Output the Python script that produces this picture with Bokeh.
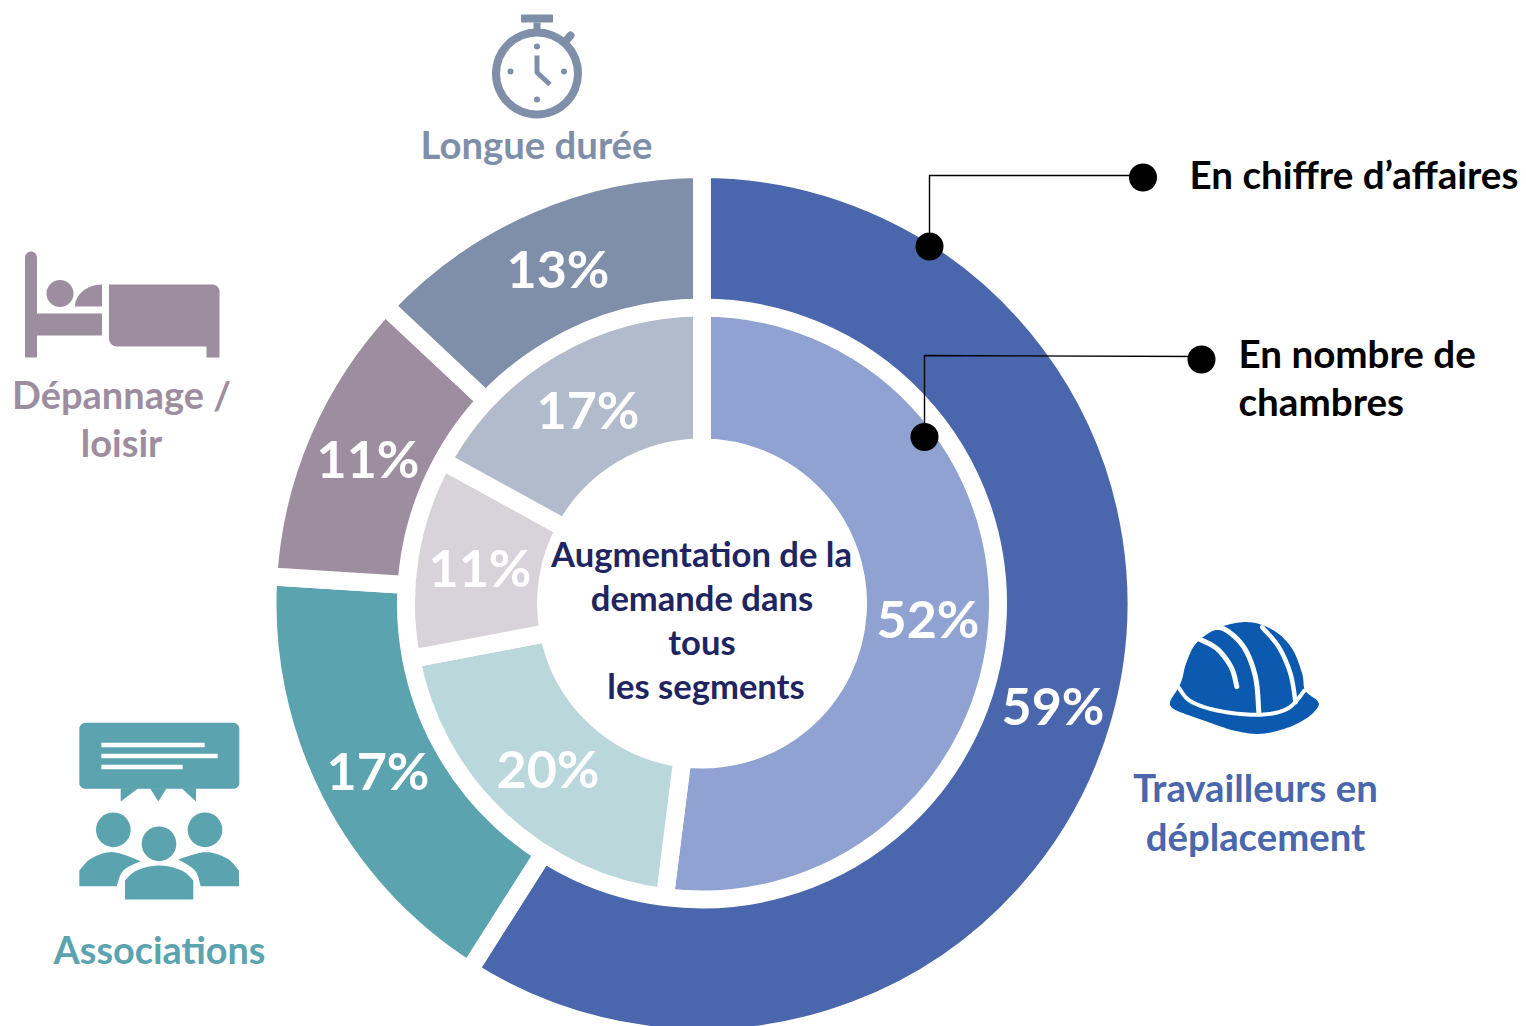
import numpy as np
from bokeh.core.properties import value
from bokeh.embed import file_html
from bokeh.models import Range1d
from bokeh.plotting import figure
from bokeh.resources import INLINE

# ---- data ----
segments = ["Travailleurs en déplacement", "Associations", "Dépannage / loisir", "Longue durée"]
revenue_share = [59, 17, 11, 13]
rooms_share = [52, 20, 11, 17]
revenue_colors = ["#4A66AC", "#5BA3AF", "#9D8E9F", "#7F8FA9"]
rooms_colors = ["#8FA2D2", "#BAD8DC", "#D8D2DA", "#B2BBCB"]
center_lines = ["Augmentation de la", "demande dans", "tous", "les segments"]

# ---- layout (page pixels) ----
W, H = 1526, 1026
CX, CY = 701.5, 603
GAP = 18
FONT = value("Lato")

p = figure(width=W, height=H, output_backend="svg", toolbar_location=None,
           x_range=Range1d(0, W), y_range=Range1d(0, H),
           min_border=0, outline_line_color=None)
p.axis.visible = False
p.grid.visible = False
p.background_fill_color = "white"
p.border_fill_color = "white"


def Y(v):
    return 1026 - np.asarray(v, dtype=float)


def ring(shares, colors, r_in, r_out):
    fr = np.cumsum([0] + list(shares)) / sum(shares)
    start = np.pi / 2 - fr[1:] * 2 * np.pi
    end = np.pi / 2 - fr[:-1] * 2 * np.pi
    p.annular_wedge(x=CX, y=Y(CY), inner_radius=r_in - GAP / 2, outer_radius=r_out + GAP / 2,
                    start_angle=start, end_angle=end, fill_color=colors,
                    line_color="white", line_width=GAP, line_join="bevel")


ring(revenue_share, revenue_colors, 300, 425.5)
ring(rooms_share, rooms_colors, 165, 287)


def poly(pts, color, ox=0, oy=0, s=1.0):
    a = np.asarray(pts, dtype=float)
    p.patch(ox + a[:, 0] * s, Y(oy + a[:, 1] * s), fill_color=color, line_color=None)


def path(pts, color, width, ox=0, oy=0, s=1.0, cap="round"):
    a = np.asarray(pts, dtype=float)
    p.line(ox + a[:, 0] * s, Y(oy + a[:, 1] * s), line_color=color, line_width=width, line_cap=cap, line_join="round")


def disc(x, y, r, color):
    p.circle(x=[x], y=Y([y]), radius=r, fill_color=color, line_color=None)


def arc_pts(cx, cy, rx, ry, a0, a1, n=30):
    t = np.radians(np.linspace(a0, a1, n))
    return np.c_[cx + rx * np.cos(t), cy + ry * np.sin(t)]


def smooth(pts, closed=False, n=12):
    a = np.asarray(pts, dtype=float)
    if closed:
        q = np.vstack([a[-1], a, a[0], a[1]])
    else:
        q = np.vstack([a[0], a, a[-1]])
    out = []
    for i in range(1, len(q) - 2):
        p0, p1, p2, p3 = q[i - 1], q[i], q[i + 1], q[i + 2]
        for t in np.linspace(0, 1, n, endpoint=False):
            out.append(0.5 * ((2 * p1) + (-p0 + p2) * t + (2 * p0 - 5 * p1 + 4 * p2 - p3) * t ** 2
                              + (-p0 + 3 * p1 - 3 * p2 + p3) * t ** 3))
    out.append(q[-2])
    return np.array(out)


def rrect(x0, y0, x1, y1, r):
    return np.vstack([arc_pts(x1 - r, y0 + r, r, r, -90, 0, 8), arc_pts(x1 - r, y1 - r, r, r, 0, 90, 8),
                      arc_pts(x0 + r, y1 - r, r, r, 90, 180, 8), arc_pts(x0 + r, y0 + r, r, r, 180, 270, 8)])


# ---- stopwatch ----
c = "#7F8FA9"
disc(536.5, 73, 45, c)
disc(536.5, 73, 37, "white")
poly([(533, 22), (540, 22), (540, 30), (533, 30)], c)
poly(rrect(520.5, 14, 552.5, 22, 1), c)
path([(565, 41), (570, 35)], c, 8)
path([(536.5, 55), (536.5, 72), (549.5, 84)], c, 5, cap="butt")
for dx, dy in [(536.5, 46), (510, 71), (563.5, 71), (536.5, 99)]:
    disc(dx, dy, 3, c)

# ---- bed ----
c = "#9D8E9F"
poly(np.vstack([arc_pts(30.5, 257, 6, 6, 180, 360, 12), [(36.5, 313), (101.5, 313), (101.5, 335), (36.5, 335), (36.5, 357), (24.5, 357)]]), c)
disc(59.5, 293, 13.5, c)
poly(np.vstack([arc_pts(101.5, 306, 27, 22, 180, 270, 14), [(101.5, 306)]]), c)
poly(np.vstack([arc_pts(212, 291, 7, 7, -90, 0, 8), [(219, 357), (206, 357), (206, 346)],
                arc_pts(116.5, 338, 8, 8, 90, 180, 8), [(108.5, 284)]]), c)

# ---- associations ----
c = "#5BA3AF"
ox, oy, s = 69.5, 715, 1 / 3
poly(rrect(28, 22, 508, 220, 18), c, ox, oy, s)
poly([(152, 218), (152, 258), (205, 218)], c, ox, oy, s)
poly([(240, 218), (265, 258), (290, 218)], c, ox, oy, s)
poly([(335, 218), (378, 258), (378, 218)], c, ox, oy, s)
for y0, x1 in [(82, 404), (115, 443), (148, 338)]:
    poly([(94, y0), (x1, y0), (x1, y0 + 13), (94, y0 + 13)], "white", ox, oy, s)
for hx, hy in [(130, 343), (267, 385), (405, 343)]:
    disc(ox + hx * s, oy + hy * s, 52 * s, c)
poly(np.vstack([[(28, 512), (28, 465)], smooth([(28, 465), (65, 428), (130, 410), (212, 437)]),
                smooth([(212, 437), (160, 465), (140, 512)])]), c, ox, oy, s)
poly(np.vstack([[(507, 512), (507, 465)], smooth([(507, 465), (470, 428), (405, 410), (325, 432)]),
                smooth([(325, 432), (375, 465), (392, 512)])]), c, ox, oy, s)
poly(np.vstack([[(165, 552), (165, 495)], smooth([(165, 495), (200, 465), (267, 450), (335, 465), (370, 495)]),
                [(370, 552)]]), c, ox, oy, s)

# ---- helmet ----
c = "#0B5AAF"
ox, oy = 1160, 610
outline = [(30, 270), (52, 235), (65, 205), (78, 155), (110, 95), (180, 50), (265, 35), (340, 60), (395, 115),
           (425, 190), (434, 240), (470, 270), (472, 290), (440, 322), (380, 352), (300, 370), (220, 360),
           (130, 330), (60, 305), (33, 290)]
poly(smooth(outline, closed=True), c, ox, oy, s)
path(smooth([(55, 232), (90, 272), (170, 300), (290, 313), (380, 295), (432, 240)]), "white", 4, ox, oy, s)
path(smooth([(115, 85), (170, 115), (212, 170), (229, 228)]), "white", 5, ox, oy, s)
path(smooth([(140, 55), (190, 55), (250, 110), (285, 200), (295, 305)]), "white", 5, ox, oy, s)
path(smooth([(305, 50), (355, 110), (390, 190), (405, 275)]), "white", 4.5, ox, oy, s)

# ---- leaders ----
path([(929, 246), (929, 175), (1143, 175)], "black", 1.4, cap="butt")
path([(924, 436), (924, 355), (1201, 356)], "black", 1.4, cap="butt")
for dx, dy in [(929, 246), (1142.5, 177), (924, 436.5), (1201, 359)]:
    disc(dx, dy, 14, "black")


def label(x, y, txt, size, color, align="center"):
    # y is the wanted baseline; this text mode draws about 0.42 em below it
    p.text(x=[x], y=Y([y - 0.42 * size + 1.7]), text=[txt], text_font=FONT, text_font_style="bold",
           text_font_size=f"{size}px", text_color=color, text_align=align, text_baseline="alphabetic")


# ---- percent labels ----
pct_size = 52
revenue_pos = [(1052.5, 725), (377.5, 789.5), (367.5, 478), (557.5, 288)]
rooms_pos = [(927.5, 638), (547.5, 788), (479.5, 587), (587.5, 429)]
for (x, y), v in zip(revenue_pos, revenue_share):
    label(x, y, f"{v}%", pct_size, "white")
for (x, y), v in zip(rooms_pos, rooms_share):
    label(x, y, f"{v}%", pct_size, "white")

# ---- centre text ----
center_pos = [(701, 566), (701.5, 610), (701.5, 654), (705.5, 698)]
for (x, y), s_ in zip(center_pos, center_lines):
    label(x, y, s_, 34.6, "#1F2560")

# ---- segment names ----
label(536, 158, "Longue durée", 38.3, "#7F8FA9")
label(121, 408, "Dépannage /", 38, "#9D8E9F")
label(121, 456, "loisir", 38, "#9D8E9F")
label(159, 963, "Associations", 37.8, "#5BA3AF")
label(1255, 801, "Travailleurs en", 38.3, "#4A66AC")
label(1255, 850, "déplacement", 38.3, "#4A66AC")

# ---- legend texts ----
label(1189, 188, "En chiffre d’affaires", 38.6, "black", "left")
label(1238, 367, "En nombre de", 38.6, "black", "left")
label(1238, 415, "chambres", 38.6, "black", "left")

open("out.html", "w").write(file_html(p, INLINE))
